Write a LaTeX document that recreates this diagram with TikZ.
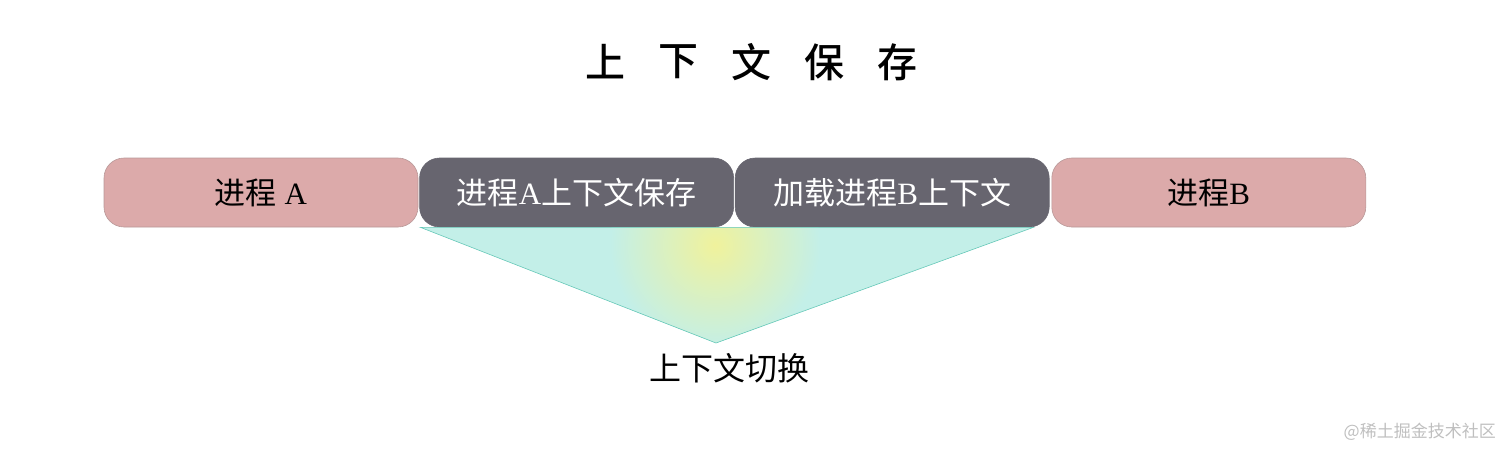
\documentclass[tikz,border=0pt]{standalone}
\usepackage{fontspec}
\setmainfont{Liberation Serif}
\newfontfamily\cjk{Noto Sans CJK SC}
\newfontfamily\cjkmed{Noto Sans CJK SC Medium}
\usetikzlibrary{positioning}

\definecolor{procpink}{HTML}{DCAAAA}
\definecolor{procedge}{HTML}{B89898}
\definecolor{ctxgray}{HTML}{67656F}
\definecolor{swcyan}{HTML}{C3EFE8}
\definecolor{swyellow}{HTML}{F0F29C}
\definecolor{swedge}{HTML}{66C8B8}
\newcommand\zh[1]{{\cjk #1}}

\tikzset{
    proc/.style={draw=procedge, line width=0.6pt, fill=procpink, rounded corners=20pt,
        minimum width=314pt, minimum height=69pt, inner sep=0pt, font=\fontsize{31}{34}\selectfont},
    ctx/.style={proc, draw=ctxgray, fill=ctxgray, text=white},
    titlechar/.style={font=\cjkmed\fontsize{40}{44}\selectfont, inner sep=0pt}
}

\begin{document}
\begin{tikzpicture}[x=1pt, y=-1pt]
    \useasboundingbox (0,0) rectangle (1512,456);
    % title
    \foreach \c [count=\i] in {上,下,文,保,存}
        \node[titlechar] (t\i) at ({605+73*(\i-1)},62) {\c};
    % boxes
    \node[proc] (A) at (261,192.5) {\zh{进程} A};
    \node[ctx, right=1pt of A] (saveA) {\zh{进程}A\zh{上下文保存}};
    \node[ctx, right=1pt of saveA] (loadB) {\zh{加载进程}B\zh{上下文}};
    \node[proc, right=2pt of loadB] (B) {\zh{进程}B};
    % switch triangle
    \coordinate (tl) at ([xshift=1pt]saveA.south west);
    \coordinate (tr) at ([xshift=-16pt]loadB.south east);
    \coordinate (apex) at (716,343);
    \begin{scope}
        \clip (tl) -- (tr) -- (apex) -- cycle;
        \fill[swcyan] (tl) -- (tr) -- (apex) -- cycle;
        \shade[inner color=swyellow, outer color=swcyan] (715,245) circle (105);
    \end{scope}
    \draw[swedge, line width=0.6pt] (tl) -- (tr) -- (apex) -- cycle;
    \node[below=10pt of apex, xshift=13pt, inner sep=0pt, font=\cjk\fontsize{32}{35}\selectfont] (sw) {上下文切换};
    % watermark
    \node[font=\cjk\fontsize{17}{20}\selectfont, text=black!25, anchor=east, inner sep=0pt] (wm) at (1496,432) {@稀土掘金技术社区};
\end{tikzpicture}
\end{document}
